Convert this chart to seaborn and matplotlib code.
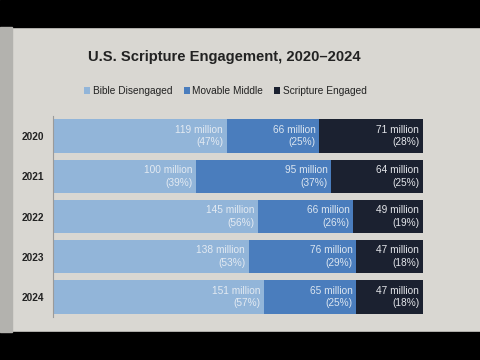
import matplotlib
matplotlib.use("Agg")
import matplotlib.pyplot as plt
from matplotlib.patches import Rectangle, Patch
import seaborn as sns
import pandas as pd

# данные с картинки
years = ["2020", "2021", "2022", "2023", "2024"]
disengaged_m = [119, 100, 145, 138, 151]
middle_m = [66, 95, 66, 76, 65]
engaged_m = [71, 64, 49, 47, 47]
disengaged_pct = [47, 39, 56, 53, 57]
middle_pct = [25, 37, 26, 29, 25]
engaged_pct = [28, 25, 19, 18, 18]

series = ["Bible Disengaged", "Movable Middle", "Scripture Engaged"]
colors = ["#92b5d9", "#4a7dbd", "#1b2130"]
text_colors = ["#e3eaf2", "#dbe5f0", "#e4e6ea"]

sns.set_theme(style="white")
plt.rcParams["font.family"] = ["Liberation Sans", "DejaVu Sans"]

df = pd.DataFrame({
    "year": years,
    "d": disengaged_pct,
    "m": middle_pct,
    "e": engaged_pct,
})
tot = df["d"] + df["m"] + df["e"]
# приводим к 100%, чтобы все полосы кончались в одной точке
df["c1"] = df["d"] / tot * 100
df["c2"] = (df["d"] + df["m"]) / tot * 100
df["c3"] = 100.0

fig = plt.figure(figsize=(4.8, 3.6), dpi=100, facecolor="#d9d7d2")
# чёрные поля фото сверху и снизу, тёмная полоса слева
fig.add_artist(Rectangle((0, 1 - 27 / 360), 1, 27 / 360, transform=fig.transFigure, color="black", zorder=0))
fig.add_artist(Rectangle((0, 0), 1, 28 / 360, transform=fig.transFigure, color="black", zorder=0))
fig.add_artist(Rectangle((0, 28 / 360), 12 / 480, 1 - 55 / 360, transform=fig.transFigure, color="#b3b2ae", zorder=0))

ax = fig.add_axes([0.110, 0.119, 0.771, 0.559])
ax.set_facecolor("none")

# накопленные суммы: рисуем сзади вперёд
for col, c in zip(["c3", "c2", "c1"], colors[::-1]):
    sns.barplot(data=df, x=col, y="year", orient="h", color=c, width=0.83,
                saturation=1, linewidth=0, edgecolor="none", ax=ax)

millions = [disengaged_m, middle_m, engaged_m]
pcts = [disengaged_pct, middle_pct, engaged_pct]
for i in range(len(years)):
    ends = [df["c1"][i], df["c2"][i], df["c3"][i]]
    for k in range(3):
        ax.text(ends[k] - 1.0, i, f"{millions[k][i]} million\n({pcts[k][i]}%)",
                ha="right", va="center", fontsize=7.3, linespacing=1.35,
                color=text_colors[k])

ax.set_xlim(0, 100)
ax.set_ylim(4.5, -0.5)
ax.set_xlabel("")
ax.set_ylabel("")
ax.set_xticks([])
ax.tick_params(axis="y", length=0, pad=6)
for lab in ax.get_yticklabels():
    lab.set_fontsize(7.3)
    lab.set_fontweight("bold")
    lab.set_color("#222222")
for s in ["top", "right", "bottom"]:
    ax.spines[s].set_visible(False)
ax.spines["left"].set_color("#9a9a9a")
ax.spines["left"].set_linewidth(0.8)

fig.text(88 / 480, 1 - 57 / 360, "U.S. Scripture Engagement, 2020\u20132024",
         ha="left", va="center", fontsize=10.6, fontweight="bold",
         color="#222222")

handles = [Patch(facecolor=c, edgecolor="none") for c in colors]
fig.legend(handles, series, loc="center", bbox_to_anchor=(0.47, 1 - 91 / 360),
           ncol=3, frameon=False, fontsize=7.3, handlelength=0.6, handleheight=0.6,
           handletextpad=0.25, columnspacing=1.1, labelcolor="#222222")

fig.savefig("out.png", dpi=100, facecolor=fig.get_facecolor())
